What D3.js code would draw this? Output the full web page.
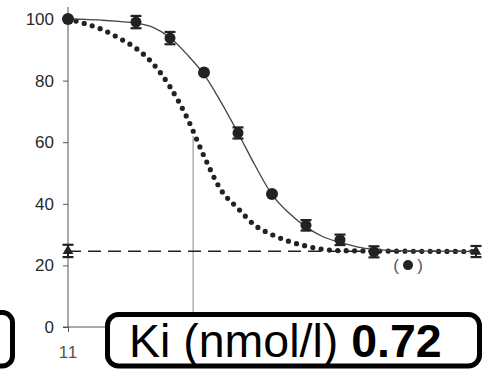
<!DOCTYPE html>
<html>
<head>
<meta charset="utf-8">
<script src="https://cdn.jsdelivr.net/npm/d3@7"></script>
<style>
  body { margin: 0; background: #fff; }
  svg { display: block; font-family: "Liberation Sans", Arial, sans-serif; }
  .ytick text { font-size: 17px; fill: #2a2a2a; }
  .xtick text { font-size: 17px; fill: #555; letter-spacing: 1px; }
</style>
</head>
<body>
<div id="chart"></div>
<script>
'use strict';

// measured points (log concentration, % binding)
const logConc   = [-11, -10, -9.5, -9, -8.5, -8, -7.5, -7, -6.5];
const binding   = [100, 99, 93.8, 82.6, 63, 43.2, 33, 28.3, 24.4];
const bindErr   = [0, 2, 2, 0, 1.8, 0, 1.7, 1.7, 1.8];
const pointKind = ['c', 'e', 'e', 'c', 'e', 'c', 'e', 'e', 'e'];

// excluded point, drawn in brackets
const outlierX = [-6];
const outlierY = [20.1];

// nonspecific binding (triangles)
const nsbX = [-11, -5];
const nsbY = [24.7, 24.5];
const nsbErr = [2, 1.8];
const nsbLevel = 24.6;

// fitted curve
const fitX = [-11, -10.75, -10.5, -10.25, -10, -9.75, -9.5, -9.25, -9, -8.75, -8.5, -8.25, -8, -7.75, -7.5, -7.25, -7, -6.75, -6.5, -6, -5];
const fitY = [100, 99.9, 99.6, 99.2, 98.7, 97.3, 94, 88.5, 82, 73, 63, 52.5, 43, 37, 32.5, 29.3, 27.5, 26, 25.2, 24.7, 24.5];

// dotted comparison curve
const dotX = [-11, -10.75, -10.5, -10.25, -10, -9.75, -9.5, -9.25, -9, -8.75, -8.5, -8.25, -8, -7.75, -7.5, -7.25, -7, -6, -5];
const dotY = [100, 98.5, 96.6, 93.8, 90.5, 85.5, 78, 68, 55.5, 44.5, 38.5, 33, 30, 27.8, 26.3, 25.2, 24.8, 24.6, 24.5];

// half-maximum marker of the dotted curve
const markX = -9.16;
const markY = 62;

const yTicks = [0, 20, 40, 60, 80, 100];
const xTicks = [-11];
const xTickLabels = ['11'];

const msm = { width: 488, height: 370 };

const svg = d3.select('#chart').append('svg')
  .attr('width', msm.width)
  .attr('height', msm.height);

const xScale = d3.scaleLinear().domain([-11, -5]).range([68, 476]);
const yScale = d3.scaleLinear().domain([0, 100]).range([327, 19]);

// axes
const yAxis = d3.axisLeft(yScale).tickValues(yTicks).tickSize(5).tickSizeOuter(0).tickPadding(9);
const gy = svg.append('g').attr('class', 'ytick').attr('transform', 'translate(68,0)').call(yAxis);
gy.attr('font-family', null).attr('font-size', null);
gy.select('.domain').attr('d', 'M0,' + 7 + 'V' + yScale(0)).attr('stroke', '#555');
gy.selectAll('.tick line').attr('stroke', '#555');
gy.selectAll('.tick text').attr('fill', null);

const xAxis = d3.axisBottom(xScale).tickValues(xTicks)
  .tickFormat((d, i) => xTickLabels[i]).tickSize(5).tickSizeOuter(0).tickPadding(14);
const gx = svg.append('g').attr('class', 'xtick').attr('transform', 'translate(0,' + yScale(0) + ')').call(xAxis);
gx.attr('font-family', null).attr('font-size', null);
gx.select('.domain').attr('d', 'M' + 63 + ',0H' + 200).attr('stroke', '#555');
gx.selectAll('.tick line').attr('stroke', '#555');
gx.selectAll('.tick text').attr('fill', null);

// vertical marker line
svg.append('line')
  .attr('x1', xScale(markX)).attr('x2', xScale(markX))
  .attr('y1', yScale(markY)).attr('y2', yScale(0))
  .attr('stroke', '#888').attr('stroke-width', 1);

// nonspecific binding dashed line
svg.append('line')
  .attr('x1', xScale(-11)).attr('x2', xScale(-5))
  .attr('y1', yScale(nsbLevel)).attr('y2', yScale(nsbLevel))
  .attr('stroke', '#222').attr('stroke-width', 1.6)
  .attr('stroke-dasharray', '13,7');

// dotted curve
const line = d3.line().x(d => xScale(d[0])).y(d => yScale(d[1])).curve(d3.curveMonotoneX);
svg.append('path')
  .attr('d', line(d3.zip(dotX, dotY)))
  .attr('fill', 'none')
  .attr('stroke', '#222')
  .attr('stroke-width', 5.2)
  .attr('stroke-linecap', 'round')
  .attr('stroke-dasharray', '0,8.4');

// fitted curve
svg.append('path')
  .attr('d', line(d3.zip(fitX, fitY)))
  .attr('fill', 'none')
  .attr('stroke', '#444')
  .attr('stroke-width', 1.3);

// error bars
function errorBar(x, y, e) {
  if (!e) return;
  const cx = xScale(x);
  svg.append('line').attr('x1', cx).attr('x2', cx)
    .attr('y1', yScale(y + e)).attr('y2', yScale(y - e))
    .attr('stroke', '#222').attr('stroke-width', 2);
  [y + e, y - e].forEach(v => {
    svg.append('line').attr('x1', cx - 5.5).attr('x2', cx + 5.5)
      .attr('y1', yScale(v)).attr('y2', yScale(v))
      .attr('stroke', '#222').attr('stroke-width', 2.2);
  });
}

logConc.forEach((x, i) => errorBar(x, binding[i], bindErr[i]));
nsbX.forEach((x, i) => errorBar(x, nsbY[i], nsbErr[i]));

svg.selectAll('.pt')
  .data(d3.range(logConc.length))
  .enter()
  .append('circle')
  .attr('cx', i => xScale(logConc[i]))
  .attr('cy', i => yScale(binding[i]))
  .attr('r', i => pointKind[i] === 'c' ? 6 : 5.5)
  .attr('fill', '#222');

// triangles
svg.selectAll('.tri')
  .data(d3.range(nsbX.length))
  .enter()
  .append('path')
  .attr('transform', i => 'translate(' + xScale(nsbX[i]) + ',' + yScale(nsbY[i]) + ')')
  .attr('d', d3.symbol().type(d3.symbolTriangle).size(50))
  .attr('fill', '#222');

// bracketed outlier
outlierX.forEach((x, i) => {
  const cx = xScale(x), cy = yScale(outlierY[i]);
  svg.append('circle').attr('cx', cx).attr('cy', cy).attr('r', 5).attr('fill', '#222');
  svg.append('text').attr('x', cx - 12).attr('y', cy + 6).attr('text-anchor', 'middle')
    .style('font-size', '17px').attr('fill', '#555').text('(');
  svg.append('text').attr('x', cx + 12).attr('y', cy + 6).attr('text-anchor', 'middle')
    .style('font-size', '17px').attr('fill', '#555').text(')');
});

// label boxes
svg.append('rect')
  .attr('x', -40).attr('y', 312.5).attr('width', 52.5).attr('height', 53.5)
  .attr('rx', 10).attr('fill', '#fff').attr('stroke', '#000').attr('stroke-width', 5);

svg.append('rect')
  .attr('x', 107.5).attr('y', 314.5).attr('width', 372).attr('height', 51.5)
  .attr('rx', 11).attr('fill', '#fff').attr('stroke', '#000').attr('stroke-width', 5);

const label = svg.append('text')
  .attr('x', 129).attr('y', 357)
  .style('font-size', '46.5px').attr('fill', '#000');
label.append('tspan').text('Ki (nmol/l) ');
label.append('tspan').style('font-weight', 'bold').text('0.72');
</script>
</body>
</html>
